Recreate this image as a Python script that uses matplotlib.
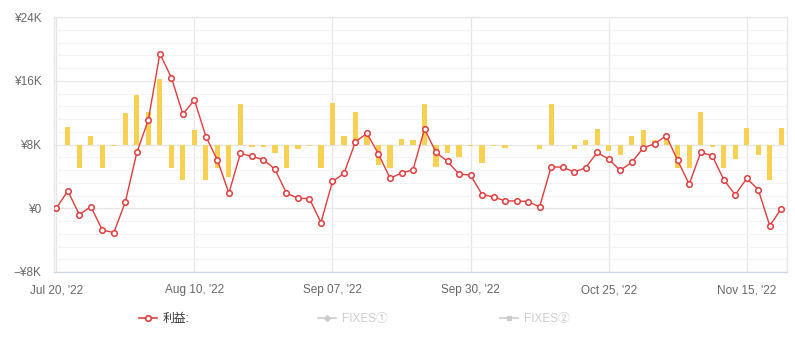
import matplotlib
matplotlib.use("Agg")
import matplotlib.pyplot as plt
from matplotlib.lines import Line2D
from matplotlib.ticker import MultipleLocator

plt.rcParams['font.family'] = ['Liberation Sans', 'Noto Sans CJK JP', 'DejaVu Sans']

# cumulative profit (yen), one point per trading day
profit = [0, 2180, -800, 210, -2730, -3060, 800, 7000, 11100, 19400,
          16400, 11800, 13600, 9000, 6050, 1900, 6900, 6500, 6100, 4900,
          1900, 1260, 1200, -1800, 3360, 4370, 8350, 9400, 6800, 3780,
          4400, 4830, 9950, 7000, 5880, 4280, 4160, 1720, 1430, 920,
          920, 840, 170, 5170, 5170, 4540, 5080, 7000, 6170, 4750,
          5750, 7560, 8100, 9100, 6000, 3020, 7000, 6600, 3600, 1680,
          3740, 2350, -2180, -80]

# daily change (yen), drawn as bars on the secondary scale
daily = [-100, 2250, -3000, 1050, -3000, -250, 3950, 6200, 4080, 8250,
         -2900, -4450, 1800, -4450, -3000, -4100, 5080, -300, -300, -1050,
         -3000, -600, -130, -3000, 5200, 1100, 4080, 1100, -2560, -3000,
         670, 600, 5100, -2860, -1050, -1600, -130, -2350, -200, -400,
         0, -80, -550, 5080, 0, -600, 550, 1930, -760, -1340,
         1100, 1800, 550, 900, -3000, -3000, 4080, -300, -3000, -1850,
         2100, -1340, -4450, 2100]

date_labels = ["Jul 20, '22", "Aug 10, '22", "Sep 07, '22",
               "Sep 30, '22", "Oct 25, '22", "Nov 15, '22"]
label_idx = [0, 12, 24, 36, 48, 60]

y_ticks = [-8000, 0, 8000, 16000, 24000]
y_labels = ["\u2212¥8K", "¥0", "¥8K", "¥16K", "¥24K"]

line_color = '#e03c3c'
bar_color = '#f8d052'
grid_color = '#e6e6e6'
text_color = '#666666'

fig = plt.figure(figsize=(7.95, 3.5), dpi=100)
ax = fig.add_axes([54 / 795, 1 - 272 / 350, (787 - 54) / 795, (272 - 17) / 350])
ax2 = ax.twinx()

x = list(range(len(profit)))

# bars on a secondary scale whose zero sits on the ¥8K line;
# the grid lives on this axis so it stays behind the bars
bar_offset = 8000
ax2.set_ylim(-8000 - bar_offset, 24000 - bar_offset)
ax2.set_yticks([t - bar_offset for t in y_ticks])
ax2.yaxis.set_minor_locator(MultipleLocator(1600))
ax2.grid(True, which='major', axis='y', color=grid_color, lw=0.9)
ax2.grid(True, which='minor', axis='y', color='#f3f3f3', lw=0.8)
for xi in label_idx:
    ax2.axvline(xi, color=grid_color, lw=0.9, zorder=0.5)
ax2.set_axisbelow(True)
ax2.tick_params(axis='y', which='both', length=0, labelright=False)
ax2.bar(x, daily, width=0.45, color=bar_color, zorder=2)
for s in ax2.spines.values():
    s.set_visible(False)

ax.set_zorder(ax2.get_zorder() + 1)
ax.patch.set_visible(False)

ax.plot(x, profit, color=line_color, lw=1.0, marker='o', ms=4.0,
        mfc='white', mec=line_color, mew=1.1, zorder=3)

ax.set_xlim(-0.2, 63.5)
ax.set_ylim(-8000, 24000)

ax.set_yticks(y_ticks)
ax.set_yticklabels(y_labels)
ax.set_xticks(label_idx)
ax.set_xticklabels(date_labels)

ax.tick_params(axis='both', which='both', length=0, labelsize=8.5,
               labelcolor=text_color)
ax.tick_params(axis='x', pad=9)
ax.tick_params(axis='y', pad=9)

for name, s in ax.spines.items():
    s.set_color('#e6e6e6')
    s.set_linewidth(0.9)
ax.spines['bottom'].set_color('#ccd6eb')

# legend: one active series and two hidden ones
entries = [
    (Line2D([], [], color=line_color, lw=1.2, marker='o', ms=4, mfc='white',
            mec=line_color, mew=1.2), "利益:", '#333333', 133),
    (Line2D([], [], color='#cccccc', lw=1.2, marker='D', ms=3),
     "FIXES①", '#cccccc', 312),
    (Line2D([], [], color='#cccccc', lw=1.2, marker='s', ms=3.5),
     "FIXES②", '#cccccc', 494),
]
for handle, label, color, xpos in entries:
    leg = fig.legend([handle], [label], loc='center left',
                     bbox_to_anchor=(xpos / 795, 1 - 319 / 350),
                     frameon=False, fontsize=8.5, handlelength=1.5,
                     handletextpad=0.5, borderpad=0)
    for t in leg.get_texts():
        t.set_color(color)

fig.savefig('out.png', dpi=100, facecolor='white')
